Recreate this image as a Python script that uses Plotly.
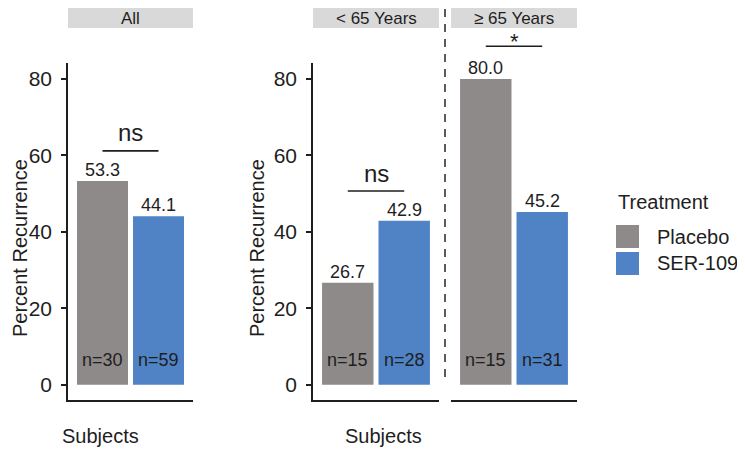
import plotly.graph_objects as go

# ---------------- data ----------------
groups = ["All", "< 65 Years", "≥ 65 Years"]
treatments = ["Placebo", "SER-109"]
placebo_pct = [53.3, 26.7, 80.0]
ser109_pct = [44.1, 42.9, 45.2]
placebo_n = [30, 15, 15]
ser109_n = [59, 28, 31]
sig_labels = ["ns", "ns", "*"]
sig_y = [61.2, 50.7, 88.6]
category = ["Subjects"]
y_ticks = [0, 20, 40, 60, 80]

# ---------------- style ----------------
PAGE_OFF = 8                      # default body margin of the html page
W, H = 745 - PAGE_OFF, 450 - PAGE_OFF
FONT = "Liberation Sans, Arial, Helvetica, sans-serif"
INK = "#1e1e1e"
COL = {"Placebo": "#8e8a89", "SER-109": "#4f83c6"}
BARGAP, GROUPGAP = 0.104, 0.089
OFF = (1 - BARGAP) / 4  # centre offset of each dodged bar


def px_x(p):
    return (p - PAGE_OFF) / W


def px_y(p):
    return 1 - (p - PAGE_OFF) / H


y_lo, y_hi = -4, 84.2
dom_b, dom_t = px_y(400), px_y(63)
x_domains = [(px_x(68), px_x(193)), (px_x(313), px_x(439)), (px_x(451), px_x(577))]

fig = go.Figure()
vals = {"Placebo": placebo_pct, "SER-109": ser109_pct}
for i in range(3):
    xa = "x" if i == 0 else f"x{i+1}"
    ya = "y" if i == 0 else f"y{i+1}"
    for t in treatments:
        fig.add_trace(go.Bar(
            x=category, y=[vals[t][i]], name=t, xaxis=xa, yaxis=ya,
            marker=dict(color=COL[t], line=dict(width=0)),
            showlegend=False, hoverinfo="name+y",
        ))

# axes
axis_common = dict(showline=True, linecolor=INK, linewidth=1.5, showgrid=False,
                   zeroline=False, mirror=False)
layout_axes = {}
for i in range(3):
    k = "" if i == 0 else str(i + 1)
    layout_axes[f"xaxis{k}"] = dict(axis_common, domain=list(x_domains[i]),
                                    anchor=f"y{k}", type="category",
                                    range=[-0.5, 0.5], showticklabels=False,
                                    ticks="")
yax = dict(axis_common, range=[y_lo, y_hi], tickvals=y_ticks, ticks="outside",
           ticklen=5, tickwidth=1.5, tickcolor=INK, ticklabelstandoff=5,
           tickfont=dict(size=21, color=INK, family=FONT))
layout_axes["yaxis"] = dict(yax, domain=[dom_b, dom_t], anchor="x")
layout_axes["yaxis2"] = dict(yax, domain=[dom_b, dom_t], anchor="x2")
# third facet shares the scale of the second; extend its domain upward to hold the bracket
y3_hi = 95
y3_top = dom_b + (dom_t - dom_b) * (y3_hi - y_lo) / (y_hi - y_lo)
layout_axes["yaxis3"] = dict(range=[y_lo, y3_hi], domain=[dom_b, y3_top],
                             anchor="x3", visible=False, showgrid=False, zeroline=False)

shapes, annotations = [], []


def ann(**kw):
    kw.setdefault("showarrow", False)
    kw.setdefault("xanchor", "center")
    kw.setdefault("yanchor", "middle")
    annotations.append(kw)


nvals = {"Placebo": placebo_n, "SER-109": ser109_n}
for i in range(3):
    k = "" if i == 0 else str(i + 1)
    for t, sgn in zip(treatments, (-1, 1)):
        # value labels above bars
        ann(x=sgn * OFF, y=vals[t][i], xref=f"x{k}", yref=f"y{k}", yshift=11,
            text=f"{vals[t][i]:.1f}", font=dict(size=18, color=INK, family=FONT))
        # n labels near the base
        ann(x=sgn * OFF, y=6.5, xref=f"x{k}", yref=f"y{k}",
            text=f"n={nvals[t][i]}", font=dict(size=18, color=INK, family=FONT))
    # significance bracket
    shapes.append(dict(type="line", xref=f"x{k}", yref=f"y{k}", x0=-OFF, x1=OFF,
                       y0=sig_y[i], y1=sig_y[i], line=dict(color=INK, width=1.6)))
    if sig_labels[i] == "ns":
        ann(x=0, y=sig_y[i], xref=f"x{k}", yref=f"y{k}", text=sig_labels[i],
            yshift=18, font=dict(size=24, color=INK, family=FONT))
    else:
        ann(x=0, y=sig_y[i], xref=f"x{k}", yref=f"y{k}", text=sig_labels[i],
            yanchor="top", yshift=18, borderpad=0,
            font=dict(size=22, color=INK, family=FONT))
    # strip
    shapes.append(dict(type="rect", xref=f"x{k} domain", yref="paper", x0=0, x1=1,
                       y0=px_y(28), y1=1, fillcolor="#d9d9d9", line=dict(width=0),
                       layer="below"))
    ann(x=0.5, y=px_y(18), xref=f"x{k} domain", yref="paper", borderpad=0,
        text=groups[i], font=dict(size=17, color=INK, family=FONT))

# dashed separator
shapes.append(dict(type="line", xref="paper", yref="paper", x0=px_x(445), x1=px_x(445),
                   y0=px_y(377), y1=1, line=dict(color="#333333", width=1.6,
                                                 dash="8px,7px")))

# axis titles
for xc in (20, 257):
    ann(x=px_x(xc), y=px_y(248), xref="paper", yref="paper", borderpad=0,
        text="Percent Recurrence", textangle=-90,
        font=dict(size=20, color=INK, family=FONT))
for xc in (100, 383):
    ann(x=px_x(xc), y=px_y(436), xref="paper", yref="paper", text="Subjects",
        font=dict(size=20, color=INK, family=FONT))

# legend (drawn manually for ggplot-sized keys)
ann(x=px_x(616), y=px_y(202), xref="paper", yref="paper", text="Treatment",
    xanchor="left", font=dict(size=20, color=INK, family=FONT))
for j, t in enumerate(treatments):
    top = 225 + j * 27
    shapes.append(dict(type="rect", xref="paper", yref="paper",
                       x0=px_x(616), x1=px_x(639), y0=px_y(top + 23), y1=px_y(top),
                       fillcolor=COL[t], line=dict(width=0)))
    ann(x=px_x(655), y=px_y(top + 11.5), xref="paper", yref="paper", text=t,
        xanchor="left", font=dict(size=20, color=INK, family=FONT))

fig.update_layout(
    width=W, height=H, margin=dict(l=0, r=0, t=0, b=0),
    paper_bgcolor="white", plot_bgcolor="white",
    barmode="group", bargap=BARGAP, bargroupgap=GROUPGAP,
    shapes=shapes, annotations=annotations, showlegend=False,
    font=dict(family=FONT, color=INK),
    **layout_axes,
)

fig.write_html("out.html")
